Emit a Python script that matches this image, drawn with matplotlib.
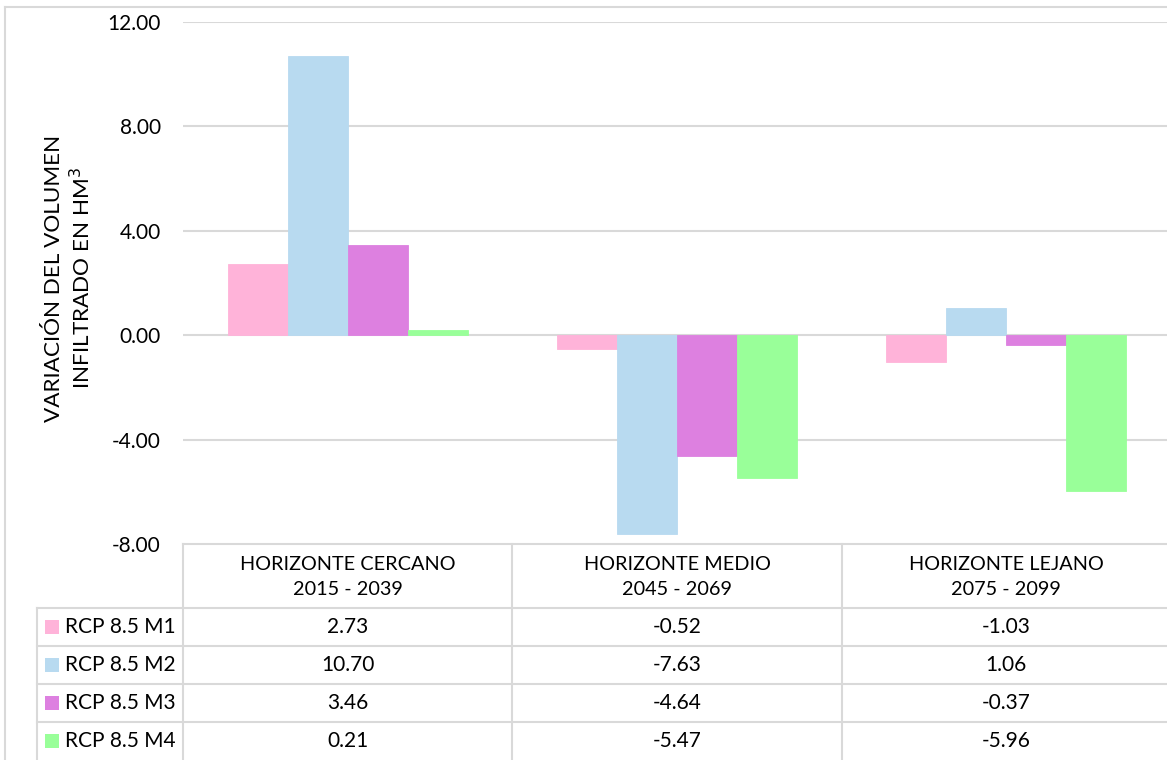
import matplotlib
matplotlib.use("Agg")
import matplotlib.pyplot as plt
import numpy as np
from matplotlib.patches import Rectangle

plt.rcParams['font.family'] = ['Lato', 'DejaVu Sans']

categories = ["HORIZONTE CERCANO\n2015 - 2039",
              "HORIZONTE MEDIO\n2045 - 2069",
              "HORIZONTE LEJANO\n2075 - 2099"]
series_names = ["RCP 8.5 M1", "RCP 8.5 M2", "RCP 8.5 M3", "RCP 8.5 M4"]
m1 = [2.73, -0.52, -1.03]
m2 = [10.70, -7.63, 1.06]
m3 = [3.46, -4.64, -0.37]
m4 = [0.21, -5.47, -5.96]
series_values = [m1, m2, m3, m4]
colors = ["#FFB3D9", "#B8DAF0", "#DD80E0", "#99FF99"]
y_ticks = [-8, -4, 0, 4, 8, 12]
y_label = "VARIACIÓN DEL VOLUMEN\nINFILTRADO EN HM$^3$"

W, H = 1167, 760
fig = plt.figure(figsize=(W / 100, H / 100), dpi=100)

# plot area in pixel terms
px_left, px_right, px_top, px_bottom = 183, 1171, 22, 544
ax = fig.add_axes([px_left / W, 1 - px_bottom / H,
                   (px_right - px_left) / W, (px_bottom - px_top) / H])

grid_c = "#D9D9D9"
n_cat = len(categories)
n_ser = len(series_values)
bar_w = 0.182
x = np.arange(n_cat)
for i, (vals, c) in enumerate(zip(series_values, colors)):
    offs = (i - (n_ser - 1) / 2) * bar_w
    ax.bar(x + offs, vals, width=bar_w, color=c, edgecolor=c,
           linewidth=0.6, zorder=3)

ax.set_xlim(-0.5, n_cat - 0.5)
ax.set_ylim(y_ticks[0], y_ticks[-1])
ax.set_yticks(y_ticks)
ax.set_yticklabels([f"{v:.2f}" for v in y_ticks], fontsize=15, color="#000000")
ax.tick_params(axis='y', length=0, pad=16)
ax.set_xticks([])
for v in y_ticks[1:]:
    ax.axhline(v, color=grid_c, lw=1.5, zorder=1)
for s in ax.spines.values():
    s.set_visible(False)

# rotated axis title
fig.text(69 / W, 1 - 278 / H, y_label, rotation=90, ha='center', va='center',
         rotation_mode='anchor', fontsize=16.2, linespacing=1.25, multialignment='center')

# data table drawn in pixel coordinates
tab = fig.add_axes([0, 0, 1, 1], facecolor="none")
tab.set_xlim(0, W)
tab.set_ylim(H, 0)
tab.axis('off')

col_edges = [px_left + k * (px_right - px_left) / n_cat for k in range(n_cat + 1)]
row_edges = [544, 608, 646, 684, 722, 760]
label_left = 37
lw = 1.5

# outer chart border
tab.plot([5, 5], [7, 760], color=grid_c, lw=1.5)
tab.plot([5, 1167], [7, 7], color=grid_c, lw=1.5)

# horizontal lines
tab.plot([col_edges[0], col_edges[-1]], [row_edges[0]] * 2, color=grid_c, lw=lw)
for r in row_edges[1:-1]:
    tab.plot([label_left, col_edges[-1]], [r, r], color=grid_c, lw=lw)
# vertical lines
tab.plot([label_left] * 2, [row_edges[1], row_edges[-1]], color=grid_c, lw=lw)
for cx in col_edges:
    tab.plot([cx, cx], [row_edges[0], row_edges[-1]], color=grid_c, lw=lw)

# header row
for k, cat in enumerate(categories):
    cx = (col_edges[k] + col_edges[k + 1]) / 2
    tab.text(cx, (row_edges[0] + row_edges[1]) / 2 + 1, cat, ha='center', va='center',
             fontsize=14.3, linespacing=1.6)

# series rows
for i, (name, vals, c) in enumerate(zip(series_names, series_values, colors)):
    cy = (row_edges[i + 1] + row_edges[i + 2]) / 2
    tab.add_patch(Rectangle((45, cy - 7), 14, 14, facecolor=c, edgecolor='none'))
    tab.text(65, cy, name, ha='left', va='center', fontsize=15)
    for k, v in enumerate(vals):
        cx = (col_edges[k] + col_edges[k + 1]) / 2
        tab.text(cx, cy, f"{v:.2f}", ha='center', va='center', fontsize=15)

fig.savefig("out.png", dpi=100)
